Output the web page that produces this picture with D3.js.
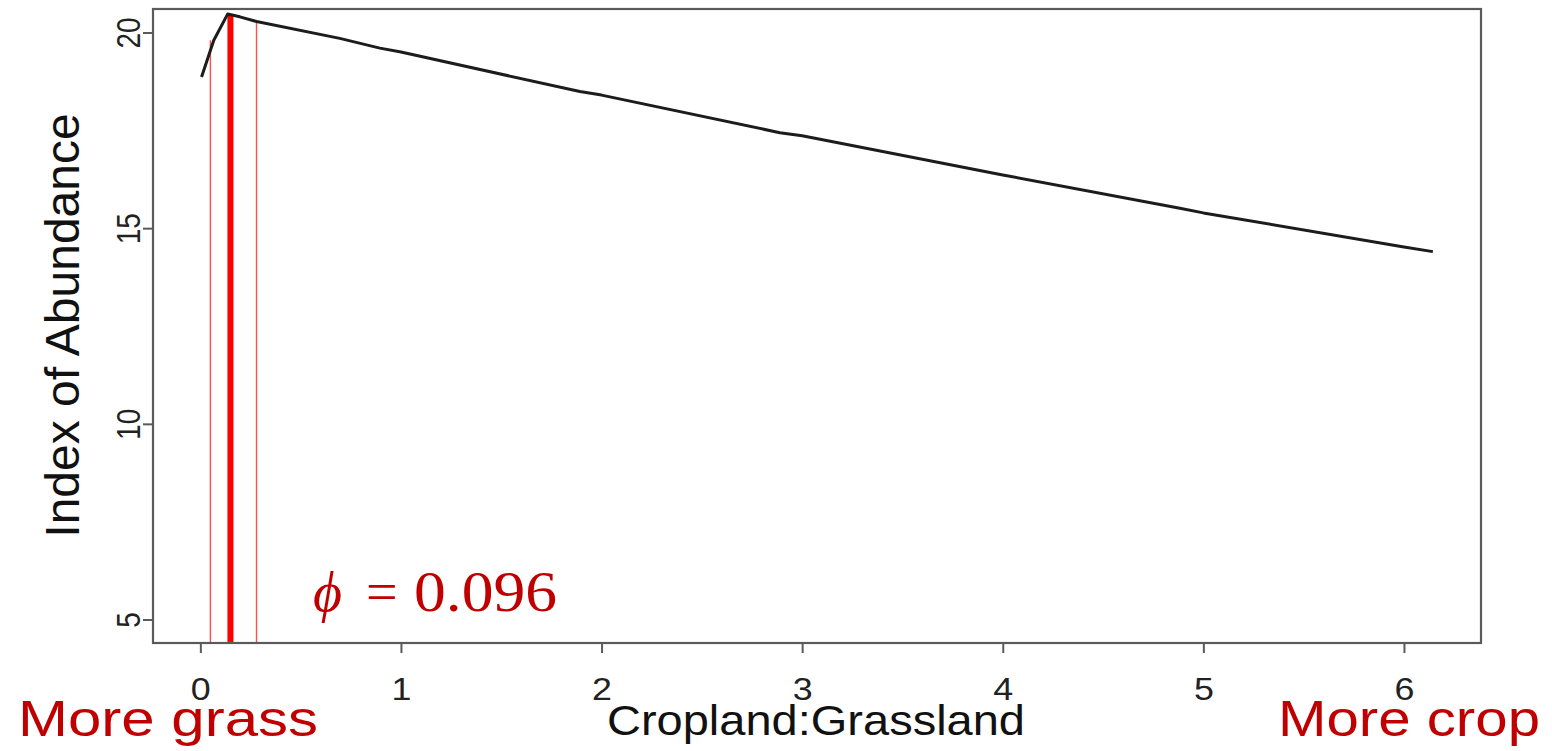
<!DOCTYPE html>
<html>
<head>
<meta charset="utf-8">
<script src="https://cdn.jsdelivr.net/npm/d3@7"></script>
<style>
  html, body { margin: 0; padding: 0; background: #ffffff; }
  svg { display: block; }
</style>
</head>
<body>
<svg id="chart" width="1552" height="751"></svg>
<script>
// Fitted abundance along the cropland:grassland ratio
const ratio     = [0.006, 0.067, 0.136, 0.197, 0.28, 0.695, 0.895, 1.0, 1.892, 2.0, 2.889, 3.0, 4.0, 4.883, 5.0, 6.0, 6.144];
const abundance = [18.86, 19.80, 20.47, 20.40, 20.28, 19.85, 19.60, 19.50, 18.49, 18.40, 17.44, 17.36, 16.36, 15.51, 15.39, 14.52, 14.40];

// Breakpoint estimate with its interval (lower, estimate, upper) and the curve height reached
const breakRatio = [0.05, 0.15, 0.28];
const breakTop   = [19.80, 20.45, 20.28];
const phiValue   = 0.096;

const xTicks = [0, 1, 2, 3, 4, 5, 6];
const yTicks = [5, 10, 15, 20];

const xDomain = [-0.236, 6.384];
const yDomain = [4.4, 20.6];

const box = { left: 153, right: 1481, top: 9, bottom: 643 };
const svg = d3.select("#chart");

const x = d3.scaleLinear().domain(xDomain).range([box.left, box.right]);
const y = d3.scaleLinear().domain(yDomain).range([box.bottom, box.top]);

const axisFont = "'Liberation Sans', Arial, Helvetica, sans-serif";
const red = "#c00000";

// Breakpoint lines: thin for the interval bounds, thick for the estimate
svg.append("g")
  .selectAll("line")
  .data(breakRatio)
  .join("line")
  .attr("x1", d => x(d))
  .attr("x2", d => x(d))
  .attr("y1", y(yDomain[0]))
  .attr("y2", (d, i) => y(breakTop[i]))
  .attr("stroke", (d, i) => i === 1 ? "#ff0000" : "#ff3030")
  .attr("stroke-width", (d, i) => i === 1 ? 6 : 1.4)
  .attr("stroke-opacity", (d, i) => i === 1 ? 1 : 0.85);

// Fitted curve
const line = d3.line().x(d => x(d[0])).y(d => y(d[1]));
svg.append("path")
  .datum(ratio.map((r, i) => [r, abundance[i]]))
  .attr("d", line)
  .attr("fill", "none")
  .attr("stroke", "#1c1c1c")
  .attr("stroke-width", 3)
  .attr("stroke-linejoin", "round");

// Plot frame
svg.append("rect")
  .attr("x", box.left).attr("y", box.top)
  .attr("width", box.right - box.left).attr("height", box.bottom - box.top)
  .attr("fill", "none").attr("stroke", "#5a5a5a").attr("stroke-width", 2.2);

// Bottom axis
const xAxis = svg.append("g")
  .attr("transform", `translate(0,${box.bottom})`)
  .call(d3.axisBottom(x).tickValues(xTicks).tickSize(10).tickPadding(0).tickFormat(d3.format("d")));
xAxis.select(".domain").remove();
xAxis.selectAll(".tick line").attr("stroke", "#5a5a5a").attr("stroke-width", 2);
xAxis.selectAll(".tick text")
  .attr("font-family", axisFont)
  .attr("font-size", 32)
  .attr("fill", "#222")
  .attr("y", 0)
  .attr("dy", 0)
  .attr("transform", "translate(0,57) scale(1.12,1)");

// Left axis (labels drawn parallel to the axis)
const yAxis = svg.append("g")
  .attr("transform", `translate(${box.left},0)`)
  .call(d3.axisLeft(y).tickValues(yTicks).tickSize(10).tickPadding(0).tickFormat(d3.format("d")));
yAxis.select(".domain").remove();
yAxis.selectAll(".tick line").attr("stroke", "#5a5a5a").attr("stroke-width", 2);
yAxis.selectAll(".tick text")
  .attr("font-family", axisFont)
  .attr("font-size", 28)
  .attr("fill", "#222")
  .attr("x", 0)
  .attr("dy", 0)
  .attr("text-anchor", "middle")
  .attr("transform", "translate(-13,0) scale(1.2,1) rotate(-90)");

// Axis titles
svg.append("text")
  .attr("transform", `translate(79,${(113 + 538) / 2}) rotate(-90)`)
  .attr("text-anchor", "middle")
  .attr("font-family", axisFont)
  .attr("font-size", 48)
  .attr("fill", "#111")
  .text("Index of Abundance");

svg.append("text")
  .attr("x", 607).attr("y", 735)
  .attr("font-family", axisFont)
  .attr("font-size", 43)
  .attr("textLength", 418)
  .attr("lengthAdjust", "spacingAndGlyphs")
  .attr("fill", "#111")
  .text("Cropland:Grassland");

// Direction labels
svg.append("text")
  .attr("x", 18).attr("y", 736)
  .attr("font-family", axisFont)
  .attr("font-size", 50)
  .attr("textLength", 300)
  .attr("lengthAdjust", "spacingAndGlyphs")
  .attr("fill", red)
  .text("More grass");

svg.append("text")
  .attr("x", 1278).attr("y", 736)
  .attr("font-family", axisFont)
  .attr("font-size", 50)
  .attr("textLength", 262)
  .attr("lengthAdjust", "spacingAndGlyphs")
  .attr("fill", red)
  .text("More crop");

// Breakpoint annotation
const phi = svg.append("text")
  .attr("y", 611)
  .attr("font-family", "'Liberation Serif', 'DejaVu Serif', serif")
  .attr("font-size", 56)
  .attr("fill", red);
phi.append("tspan").attr("x", 313).attr("font-style", "italic").text("\u03D5");
phi.append("tspan").attr("x", 366).text("=");
phi.append("tspan").attr("x", 414).attr("textLength", 143).attr("lengthAdjust", "spacingAndGlyphs")
  .text(d3.format(".3f")(phiValue));
</script>
</body>
</html>
